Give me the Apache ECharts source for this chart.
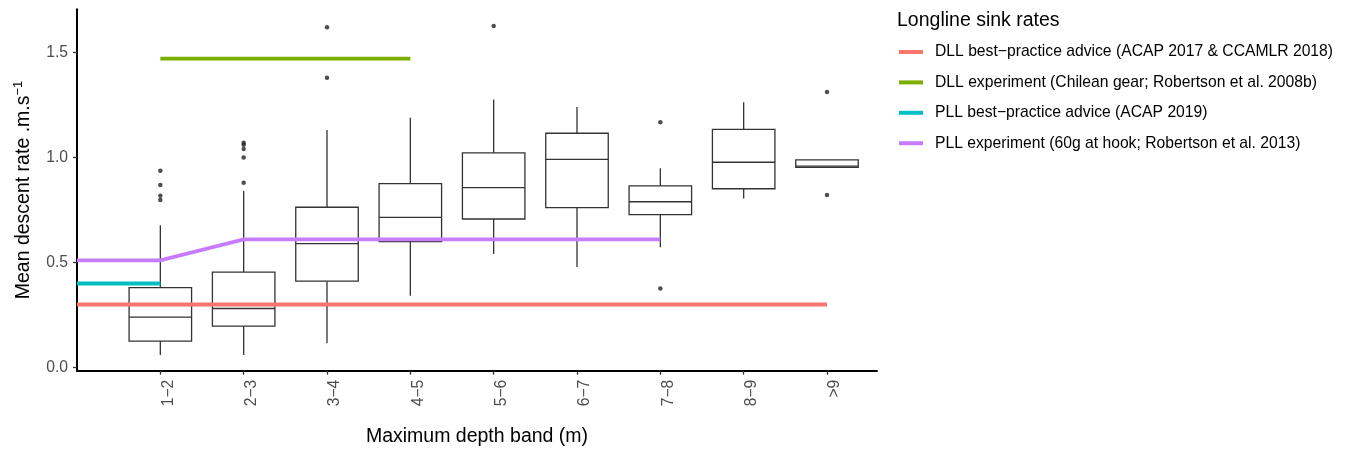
<!DOCTYPE html>
<html>
<head>
<meta charset="utf-8">
<script src="https://cdn.jsdelivr.net/npm/echarts@6/dist/echarts.min.js"></script>
<style>
html,body{margin:0;padding:0;background:#fff;}
#chart{width:1347px;height:452px;}
</style>
</head>
<body>
<div id="chart"></div>
<script>
// ---- Data ----
const categories = ['1\u22122','2\u22123','3\u22124','4\u22125','5\u22126','6\u22127','7\u22128','8\u22129','>9'];
const whiskerLow  = [0.060, 0.060, 0.116, 0.342, 0.541, 0.479, 0.573, 0.804, 0.953];
const q1          = [0.126, 0.197, 0.411, 0.599, 0.707, 0.761, 0.728, 0.851, 0.953];
const median      = [0.240, 0.281, 0.590, 0.715, 0.856, 0.991, 0.789, 0.977, 0.959];
const q3          = [0.380, 0.454, 0.763, 0.875, 1.022, 1.115, 0.865, 1.134, 0.988];
const whiskerHigh = [0.677, 0.840, 1.130, 1.189, 1.276, 1.240, 0.948, 1.263, 0.988];
// outliers: [category position (1-based), value]
const outliers = [
  [1,0.937],[1,0.869],[1,0.818],[1,0.797],
  [2,1.070],[2,1.060],[2,1.040],[2,1.000],[2,0.880],
  [3,1.620],[3,1.379],
  [5,1.625],
  [7,1.168],[7,0.376],
  [9,1.311],[9,0.821]
];
const yTicks = [0, 0.5, 1.0, 1.5];
const seriesNames = [
  'DLL best\u2212practice advice (ACAP 2017 & CCAMLR 2018)',
  'DLL experiment (Chilean gear; Robertson et al. 2008b)',
  'PLL best\u2212practice advice (ACAP 2019)',
  'PLL experiment (60g at hook; Robertson et al. 2013)'
];
const seriesColors = ['#F8766D','#7CAE00','#00BFC4','#C77CFF'];
// reference lines: [x position, value]
const dllBest = [[0,0.30],[9,0.30]];
const dllExp  = [[1,1.47],[4,1.47]];
const pllBest = [[0,0.40],[1,0.40]];
const pllExp  = [[0,0.51],[1,0.51],[2,0.61],[7,0.61]];

// ---- Chart ----
const FONT = "'Liberation Sans', Arial, Helvetica, sans-serif";
const boxData = categories.map((c,i)=>[i+1, whiskerLow[i], q1[i], median[i], q3[i], whiskerHigh[i]]);

function renderBox(params, api){
  const x = api.value(0);
  const lo = api.coord([x, api.value(1)]);
  const b1 = api.coord([x, api.value(2)]);
  const md = api.coord([x, api.value(3)]);
  const b3 = api.coord([x, api.value(4)]);
  const hi = api.coord([x, api.value(5)]);
  const half = api.size([0.75, 0])[0] / 2;
  const st = {stroke:'#333333', lineWidth:1.3, fill:null};
  return {
    type:'group',
    children:[
      {type:'line', shape:{x1:lo[0],y1:lo[1],x2:b1[0],y2:b1[1]}, style:st},
      {type:'line', shape:{x1:b3[0],y1:b3[1],x2:hi[0],y2:hi[1]}, style:st},
      {type:'rect', shape:{x:b3[0]-half, y:b3[1], width:2*half, height:b1[1]-b3[1]},
        style:{stroke:'#333333', lineWidth:1.3, fill:'#ffffff'}},
      {type:'line', shape:{x1:md[0]-half,y1:md[1],x2:md[0]+half,y2:md[1]}, style:st}
    ]
  };
}

function lineSeries(name, data, color){
  return {
    name:name, type:'line', data:data, z:5,
    showSymbol:false, symbol:'none', silent:true, animation:false,
    lineStyle:{color:color, width:3.8, cap:'butt', join:'miter'},
    itemStyle:{color:color}
  };
}

const chart = echarts.init(document.getElementById('chart'), null, {renderer:'canvas'});
chart.setOption({
  animation:false,
  backgroundColor:'#ffffff',
  textStyle:{fontFamily:FONT},
  title:{
    text:'Longline sink rates', left:892, top:6,
    textStyle:{fontSize:19.5, fontWeight:'normal', color:'#000', fontFamily:FONT}
  },
  legend:{
    orient:'vertical', left:894, top:37,
    itemWidth:24, itemHeight:4, itemGap:10.4,
    icon:'rect',
    data:seriesNames.map((n,i)=>({name:n, icon:'rect', itemStyle:{color:seriesColors[i]}})),
    textStyle:{fontSize:15.7, color:'#000', fontFamily:FONT, lineHeight:20, padding:[0,0,0,7]},
    selectedMode:false
  },
  grid:{left:77, right:470, top:9.3, bottom:81.3, containLabel:false},
  xAxis:{
    type:'value', min:0, max:9.6,
    name:'Maximum depth band (m)', nameLocation:'middle', nameGap:56,
    nameTextStyle:{fontSize:19.5, color:'#000', fontFamily:FONT},
    axisLine:{show:true, onZero:false, lineStyle:{color:'#000', width:2}},
    axisTick:{show:true, customValues:[1,2,3,4,5,6,7,8,9], length:4, lineStyle:{color:'#333', width:1.3}},
    axisLabel:{
      customValues:[1,2,3,4,5,6,7,8,9],
      formatter:v=>categories[Math.round(v)-1] || '',
      rotate:90, margin:9, verticalAlign:'top',
      fontSize:15.7, color:'#4D4D4D', fontFamily:FONT
    },
    splitLine:{show:false}
  },
  yAxis:{
    type:'value', min:-0.015, max:1.705,
    name:'{a|Mean descent rate .m.s}{b|\u22121}', nameLocation:'middle', nameGap:41,
    nameTextStyle:{
      color:'#000', fontFamily:FONT, fontSize:19.5,
      rich:{
        a:{fontSize:19.5, color:'#000', fontFamily:FONT, lineHeight:24},
        b:{fontSize:13, color:'#000', fontFamily:FONT, verticalAlign:'top', lineHeight:24}
      }
    },
    axisLine:{show:true, onZero:false, lineStyle:{color:'#000', width:2}},
    axisTick:{show:true, customValues:yTicks, length:4, lineStyle:{color:'#333', width:1.3}},
    axisLabel:{
      customValues:yTicks,
      formatter:v=>Number(v).toFixed(1),
      margin:9, fontSize:15.7, color:'#4D4D4D', fontFamily:FONT
    },
    splitLine:{show:false}
  },
  series:[
    {
      type:'custom', name:'box', renderItem:renderBox, data:boxData, z:2, silent:true,
      encode:{x:0, y:[1,2,3,4,5]}
    },
    {
      type:'scatter', name:'outliers', data:outliers, z:3, silent:true,
      symbol:'circle', symbolSize:4.5, itemStyle:{color:'#222222'}
    },
    lineSeries(seriesNames[0], dllBest, seriesColors[0]),
    lineSeries(seriesNames[1], dllExp, seriesColors[1]),
    lineSeries(seriesNames[2], pllBest, seriesColors[2]),
    lineSeries(seriesNames[3], pllExp, seriesColors[3])
  ]
});
</script>
</body>
</html>
